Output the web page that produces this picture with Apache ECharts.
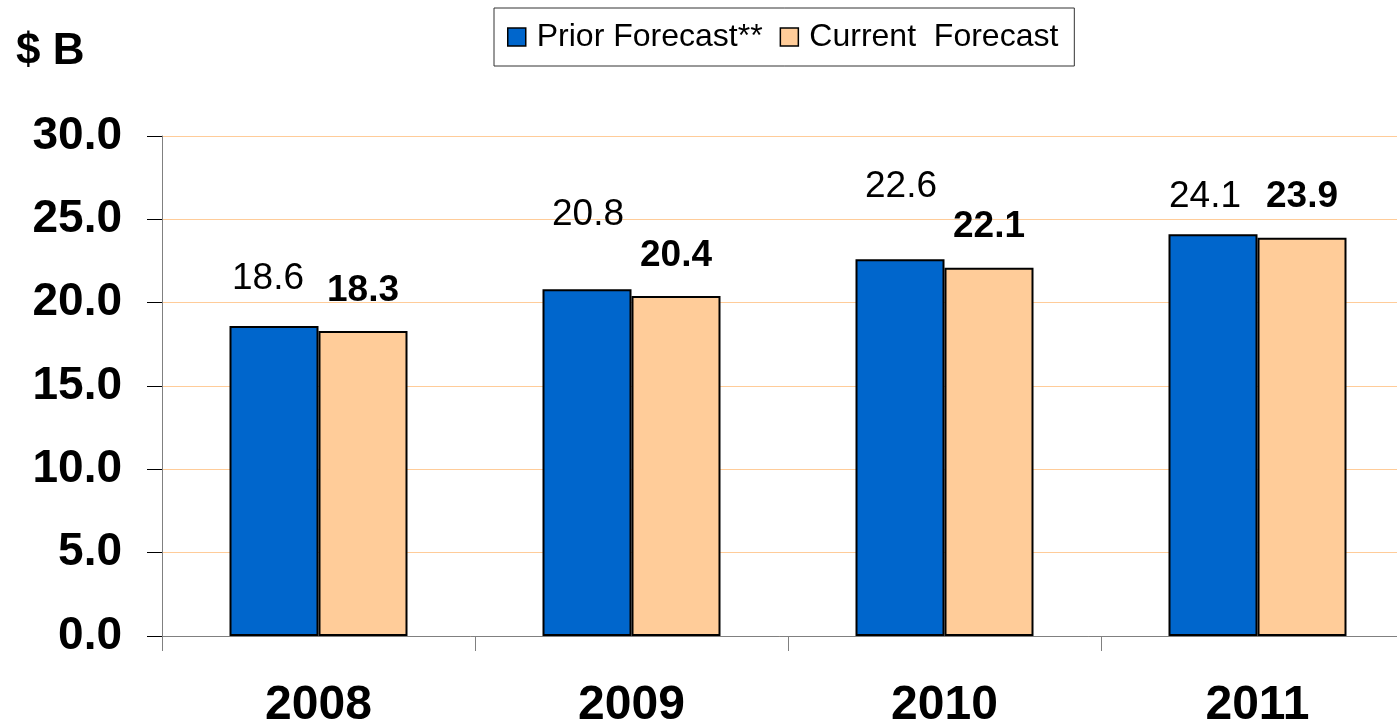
<!DOCTYPE html>
<html>
<head>
<meta charset="utf-8">
<title>Forecast</title>
<script src="https://cdn.jsdelivr.net/npm/echarts@6/dist/echarts.min.js"></script>
<style>
  html, body { margin: 0; padding: 0; background: #fff; }
  #chart { width: 1397px; height: 725px; }
</style>
</head>
<body>
<div id="chart"></div>
<script>
var years = ['2008', '2009', '2010', '2011'];
var priorForecast = [18.6, 20.8, 22.6, 24.1];
var currentForecast = [18.3, 20.4, 22.1, 23.9];
var seriesNames = ['Prior Forecast**', 'Current  Forecast'];

// the prior labels were hand placed in the original, nudge them the same way
var priorLabelNudge = [[-6, -7], [1, -34], [1, -32], [-8, 3]];

var FONT = 'Liberation Sans, Arial, sans-serif';

var chart = echarts.init(document.getElementById('chart'));

chart.setOption({
  animation: false,
  backgroundColor: '#fff',
  textStyle: { fontFamily: FONT },
  title: {
    text: '$ B',
    left: 16,
    top: 30,
    padding: 0,
    textStyle: { fontFamily: FONT, fontSize: 44, fontWeight: 'bold', color: '#000' }
  },
  legend: {
    left: 494,
    top: 8,
    padding: [13, 16, 13, 13],
    itemGap: 17,
    itemWidth: 18,
    itemHeight: 18,
    icon: 'rect',
    borderColor: '#333',
    borderWidth: 1,
    itemStyle: { borderColor: '#000', borderWidth: 1.5 },
    textStyle: { fontFamily: FONT, fontSize: 32, color: '#000', padding: [0, 0, 0, 6] },
    data: seriesNames
  },
  // plot runs a little past the right edge, like the original slide
  grid: {
    left: 162,
    top: 136,
    bottom: 89,
    right: -17,
    outerBoundsMode: 'none',
    containLabel: false
  },
  xAxis: {
    type: 'category',
    data: years,
    axisLine: { lineStyle: { color: '#808080', width: 1 } },
    axisTick: { show: true, length: 15, lineStyle: { color: '#808080' } },
    axisLabel: { margin: 46, fontFamily: FONT, fontSize: 48, fontWeight: 'bold', color: '#000' },
    splitLine: { show: false }
  },
  yAxis: {
    type: 'value',
    min: 0,
    max: 30,
    interval: 5,
    axisLine: { show: true, lineStyle: { color: '#808080', width: 1 } },
    axisTick: { show: true, length: 15, lineStyle: { color: '#000' } },
    axisLabel: {
      margin: 40,
      fontFamily: FONT,
      fontSize: 46,
      fontWeight: 'bold',
      color: '#000',
      formatter: function (v) { return v.toFixed(1); }
    },
    splitLine: { show: true, lineStyle: { color: '#FFCC99', width: 1 } }
  },
  series: [
    {
      name: seriesNames[0],
      type: 'bar',
      barWidth: 89,
      barGap: '0%',
      itemStyle: { color: '#0066CC', borderColor: '#000', borderWidth: 2 },
      label: {
        show: true,
        position: 'top',
        distance: 22,
        fontFamily: FONT,
        fontSize: 37,
        color: '#000',
        formatter: function (p) { return p.value.toFixed(1); }
      },
      data: priorForecast.map(function (v, i) {
        return { value: v, label: { offset: priorLabelNudge[i] } };
      })
    },
    {
      name: seriesNames[1],
      type: 'bar',
      barWidth: 89,
      barGap: '0%',
      itemStyle: { color: '#FFCC99', borderColor: '#000', borderWidth: 2 },
      label: {
        show: true,
        position: 'top',
        distance: 22,
        fontFamily: FONT,
        fontSize: 37,
        fontWeight: 'bold',
        color: '#000',
        formatter: function (p) { return p.value.toFixed(1); }
      },
      data: currentForecast
    }
  ]
});

window.onresize = chart.resize;
</script>
</body>
</html>
